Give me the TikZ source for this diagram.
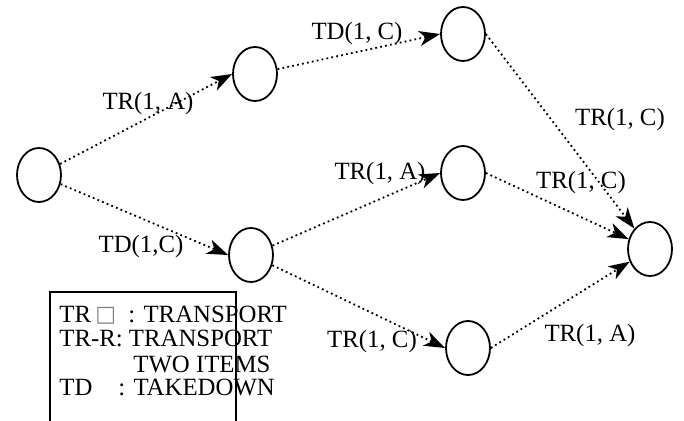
\documentclass[tikz,border=0pt]{standalone}
\usepackage{fontspec}
\setmainfont{Liberation Serif}
\newfontfamily\symfont{DejaVu Sans}
\usetikzlibrary{shapes.geometric,arrows.meta}
\begin{document}
\begin{tikzpicture}[x=0.5pt,y=-0.5pt,
  state/.style={ellipse,draw,line width=0.9pt,minimum width=22pt,minimum height=27pt,inner sep=0pt},
  flow/.style={line width=0.9pt,dash pattern=on 0.9pt off 1.6pt,-{Stealth[length=10.5pt,width=7.5pt,inset=3pt]}},
  lbl/.style={font=\fontsize{12.4}{12.4}\selectfont,inner sep=0pt},
  leg/.style={font=\fontsize{12.4}{12.4}\selectfont,inner sep=0pt,anchor=base west}]
\useasboundingbox (0,0) rectangle (684,421);
\node[state] (n0) at (39,175) {};
\node[state] (n1) at (255,74) {};
\node[state] (n2) at (463,34) {};
\node[state] (n3) at (463,173) {};
\node[state] (n4) at (251,255) {};
\node[state] (n5) at (468,348) {};
\node[state] (n6) at (650,249) {};
\draw[flow] (n0) -- (n1.west);
\draw[flow] (n1) -- (n2.west);
\draw[flow] (n2.east) -- (n6);
\draw[flow] (n0) -- (n4.west);
\draw[flow] (n4) -- (n3.west);
\draw[flow] (n4) -- (n5.west);
\draw[flow] (n3.east) -- (n6);
\draw[flow] (n5.east) -- (n6);
\node[lbl] (l1) at (148,104) {TR(1, A)};
\node[lbl] (l2) at (357,34) {TD(1, C)};
\node[lbl] (l3) at (620,120) {TR(1, C)};
\node[lbl] (l4) at (380,174) {TR(1, A)};
\node[lbl] (l5) at (581,183) {TR(1, C)};
\node[lbl] (l6) at (141,247) {TD(1,C)};
\node[lbl] (l7) at (372,342) {TR(1, C)};
\node[lbl] (l8) at (590,336) {TR(1, A)};
\draw[line width=0.75pt] (50,421) -- (50,292) -- (236,292) -- (236,421);
\node[leg] (t1a) at (59,323) {TR};
\node[leg] (t1b) at (95,322) {\color{gray}\symfont\fontsize{11}{11}\selectfont □};
\node[leg] (t1c) at (128,323) {: TRANSPORT};
\node[leg] (t2) at (59,347) {TR-R: TRANSPORT};
\node[leg] (t3) at (133,372) {TWO ITEMS};
\node[leg] (t4a) at (59,395) {TD};
\node[leg] (t4b) at (118,395) {: TAKEDOWN};
\end{tikzpicture}
\end{document}
